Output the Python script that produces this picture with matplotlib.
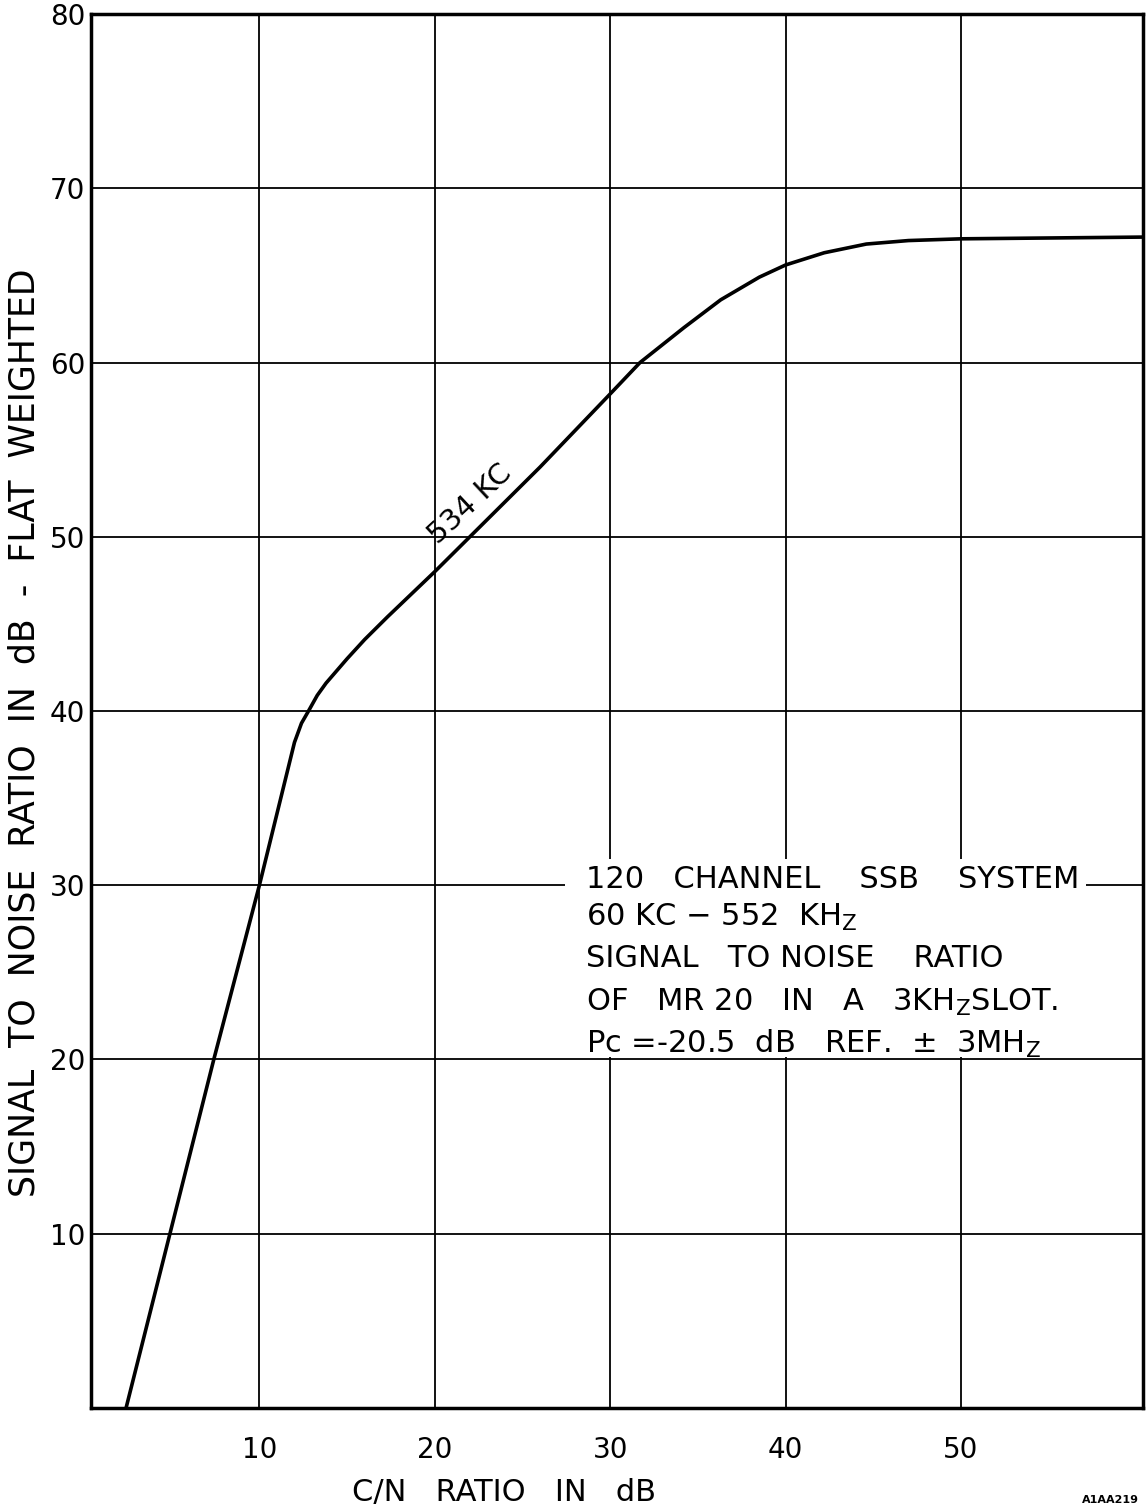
import matplotlib.pyplot as plt
from matplotlib.patches import Rectangle

# curve: C/N ratio (dB) vs S/N ratio (dB)
cn_db = [2.4, 4.9, 7.4, 10.0, 12.0, 12.4, 12.8, 13.3, 13.8, 15.0, 16.0, 17.3,
         20.0, 22.0, 26.0, 30.0, 31.7, 34.2, 36.3, 38.5, 40.0, 42.2, 44.6,
         47.0, 50.0, 60.4]
sn_db = [0.0, 10.0, 20.0, 30.0, 38.2, 39.3, 40.0, 40.9, 41.6, 43.0, 44.1, 45.4,
         48.0, 50.0, 54.0, 58.2, 60.0, 62.0, 63.6, 64.9, 65.6, 66.3, 66.8,
         67.0, 67.1, 67.2]

x_ticks = [10, 20, 30, 40, 50]
y_ticks = [10, 20, 30, 40, 50, 60, 70, 80]

curve_label = "534 KC"
note_lines = [
    "120   CHANNEL    SSB    SYSTEM",
    r"60 KC $-$ 552  KH$_\mathregular{Z}$",
    "SIGNAL   TO NOISE    RATIO",
    r"OF   MR 20   IN   A   3KH$_\mathregular{Z}$SLOT.",
    r"Pc =-20.5  dB   REF.  $\pm$  3MH$_\mathregular{Z}$",
]

plt.rcParams['font.family'] = ['DejaVu Sans']
fig = plt.figure(figsize=(11.46, 15.11), dpi=100)
ax = fig.add_axes([0.0794, 0.0682, 0.9184, 0.9225])

ax.set_xlim(0.4, 60.4)
ax.set_ylim(0, 80)
ax.set_xticks(x_ticks)
ax.set_yticks(y_ticks)
ax.set_xticklabels([str(t) for t in x_ticks])
ax.set_yticklabels([str(t) for t in y_ticks])
ax.tick_params(length=0, labelsize=20)
ax.tick_params(axis='x', pad=20)
ax.tick_params(axis='y', pad=4)
ax.grid(True, color='black', linewidth=1.3)
for s in ax.spines.values():
    s.set_linewidth(2.5)

# white block for the note text, it hides the grid behind it
ax.add_patch(Rectangle((27.4, 20.12), 33.0, 11.4, facecolor='white',
                       edgecolor='none', zorder=2))
ax.hlines(30, 57.1, 60.4, color='black', linewidth=1.3, zorder=2.5)

ax.plot(cn_db, sn_db, color='black', linewidth=2.6, zorder=3)
ax.text(22.0, 51.9, curve_label, rotation=43, fontsize=21, ha='center',
        va='center', zorder=4)

note_y = [30.34, 28.17, 25.77, 23.3, 20.9]
for line, yy in zip(note_lines, note_y):
    ax.text(28.6, yy, line, fontsize=22, ha='left', va='center', zorder=4)

fig.text(25 / 1146, 1 - 733 / 1511,
         "SIGNAL  TO  NOISE  RATIO  IN  dB  -  FLAT  WEIGHTED",
         rotation=90, fontsize=25, ha='center', va='center')
fig.text(504 / 1146, 1 - 1492 / 1511, "C/N   RATIO   IN   dB",
         fontsize=22, ha='center', va='center')
fig.text(1110 / 1146, 1 - 1500 / 1511, "A1AA219", fontsize=8,
         fontweight='bold', ha='center', va='center')

fig.savefig("out.png", dpi=100)
